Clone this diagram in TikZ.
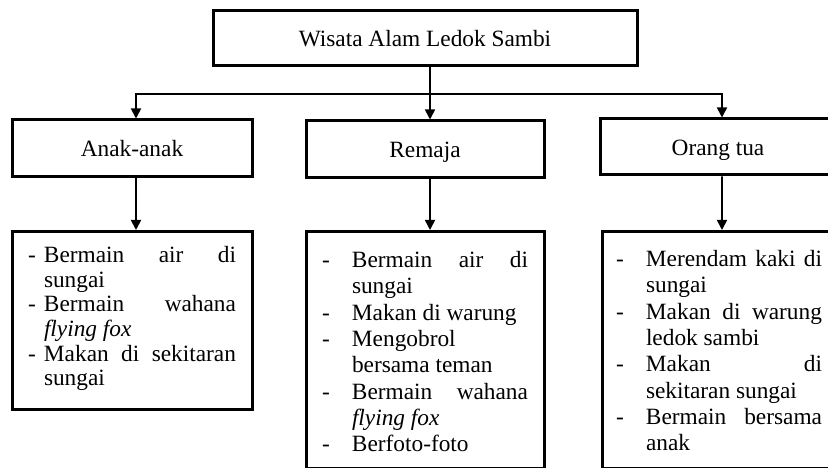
\documentclass[tikz,border=0pt]{standalone}
\usepackage{fontspec}
\setmainfont{Liberation Serif}
\usetikzlibrary{arrows.meta}

\newcommand{\butir}[2]{\noindent\hangindent=#1\hangafter=1\makebox[#1][l]{-}#2\par}

\begin{document}
\begin{tikzpicture}[
  x=0.6pt, y=-0.6pt,
  font=\fontsize{14}{15.8}\selectfont,
  box/.style ={draw, line width=1.8pt, inner sep=0pt, text height=10pt, text depth=0pt},
  list/.style={draw, line width=1.8pt, anchor=north, inner xsep=9.6pt, inner ysep=0pt,
               align=justify,
               execute at begin node={\tolerance=10000\hbadness=10000\hyphenpenalty=10000}},
  flow/.style={-{Triangle[length=6pt,width=6pt]}, line width=1pt},
  link/.style={line width=1pt},
]
\useasboundingbox (0,0) rectangle (828,468);

\node[box, minimum width=254.4pt, minimum height=33pt] (wisata) at (425,38.5)
  {Wisata Alam Ledok Sambi};

\node[box, minimum width=144pt, minimum height=34.2pt] (anak) at (132,148.5) {Anak-anak};
\node[box, minimum width=142.8pt, minimum height=34.2pt] (remaja) at (425,149.5) {Remaja};
\node[box, minimum width=141.6pt, minimum height=33.6pt] (ortu) at (718,147) {Orang tua};

\node[list, text width=124.8pt, text height=18.6pt, text depth=88.2pt,
  font=\fontsize{14}{14.8}\selectfont] (kiri) at (132,230) {%
  \butir{9.6pt}{Bermain air di\linebreak sungai}%
  \butir{9.6pt}{Bermain wahana\linebreak \textit{flying fox}}%
  \butir{9.6pt}{Makan di sekitaran\linebreak sungai}};

\node[list, text width=123.6pt, text height=21.6pt, text depth=120.6pt] (tengah) at (425,230) {%
  \butir{18pt}{Bermain air di\linebreak sungai}%
  \butir{18pt}{Makan di warung}%
  \butir{18pt}{Mengobrol\newline bersama teman}%
  \butir{18pt}{Bermain wahana\linebreak \textit{flying fox}}%
  \butir{18pt}{Berfoto-foto}};

\node[list, inner xsep=8.4pt, text width=123.6pt, text height=21pt, text depth=121.2pt] (kanan)
  at (719,230) {%
  \butir{18pt}{Merendam kaki di\linebreak sungai}%
  \butir{18pt}{Makan di warung\linebreak ledok sambi}%
  \butir{18pt}{Makan di\linebreak sekitaran sungai}%
  \butir{18pt}{Bermain bersama\linebreak anak}};

\coordinate (cabang) at (430,94);
\draw[link] (wisata.south -| cabang) -- (cabang);
\draw[flow] (cabang) -| ([xshift=2.4pt]anak.north);
\draw[flow] (cabang) -- (cabang |- remaja.north);
\draw[flow] (cabang) -| ([xshift=2.4pt]ortu.north);

\draw[flow] ([xshift=2.4pt]anak.south) -- ([xshift=2.4pt]kiri.north);
\draw[flow] ([xshift=3pt]remaja.south) -- ([xshift=3pt]tengah.north);
\draw[flow] ([xshift=2.4pt]ortu.south) -- ([xshift=1.8pt]kanan.north);

\end{tikzpicture}
\end{document}
